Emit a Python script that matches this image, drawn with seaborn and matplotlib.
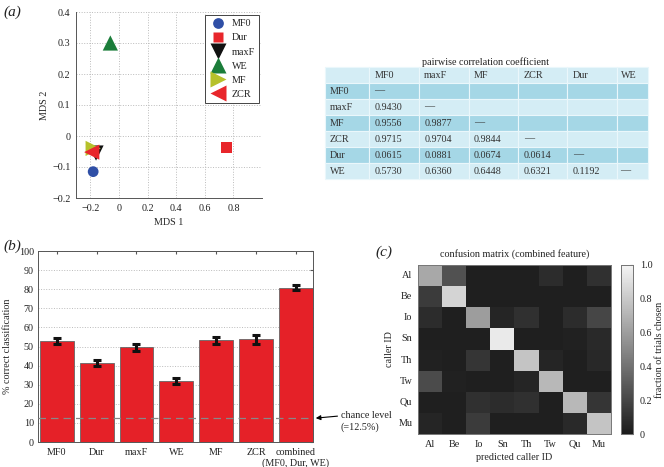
import numpy as np
import pandas as pd
import matplotlib
matplotlib.use('Agg')
import matplotlib.pyplot as plt
from matplotlib.colors import LinearSegmentedColormap
import seaborn as sns

# MDS coordinates of the features
features = ['MF0', 'Dur', 'maxF', 'WE', 'MF', 'ZCR']
mds1 = [-0.18, 0.75, -0.16, -0.06, -0.18, -0.19]
mds2 = [-0.115, -0.037, -0.055, 0.30, -0.04, -0.052]

# pairwise correlation table
tab_cols = ['MF0', 'maxF', 'MF', 'ZCR', 'Dur', 'WE']
tab_rows = [
    ['MF0', '—', '', '', '', '', ''],
    ['maxF', '0.9430', '—', '', '', '', ''],
    ['MF', '0.9556', '0.9877', '—', '', '', ''],
    ['ZCR', '0.9715', '0.9704', '0.9844', '—', '', ''],
    ['Dur', '0.0615', '0.0881', '0.0674', '0.0614', '—', ''],
    ['WE', '0.5730', '0.6360', '0.6448', '0.6321', '0.1192', '—'],
]

# classification accuracy
bar_labels = ['MF0', 'Dur', 'maxF', 'WE', 'MF', 'ZCR', 'combined\n(MF0, Dur, WE)']
bar_vals = [53.0, 41.5, 49.5, 32.0, 53.3, 53.7, 80.8]
bar_err = [1.5, 1.6, 2.0, 1.5, 1.8, 2.2, 1.3]
chance = 12.5

# confusion matrix (rows: caller, cols: predicted)
callers = ['Al', 'Be', 'Io', 'Sn', 'Th', 'Tw', 'Qu', 'Mu']
conf = [
    [0.65, 0.25, 0.02, 0.02, 0.02, 0.08, 0.02, 0.10],
    [0.15, 0.85, 0.02, 0.02, 0.02, 0.02, 0.02, 0.02],
    [0.08, 0.02, 0.60, 0.05, 0.10, 0.02, 0.08, 0.20],
    [0.02, 0.02, 0.02, 0.95, 0.02, 0.02, 0.03, 0.07],
    [0.03, 0.02, 0.12, 0.02, 0.78, 0.05, 0.02, 0.06],
    [0.22, 0.03, 0.02, 0.02, 0.05, 0.72, 0.02, 0.02],
    [0.02, 0.02, 0.10, 0.08, 0.10, 0.02, 0.72, 0.12],
    [0.05, 0.02, 0.15, 0.02, 0.02, 0.02, 0.07, 0.78],
]

FS = 7.3

sns.set_style('white')
plt.rcParams['font.family'] = ['Liberation Serif', 'DejaVu Serif']
plt.rcParams['font.size'] = FS
plt.rcParams['xtick.direction'] = 'in'
plt.rcParams['ytick.direction'] = 'in'
plt.rcParams['xtick.major.size'] = 2.5
plt.rcParams['ytick.major.size'] = 2.5
plt.rcParams['axes.edgecolor'] = '#555555'
plt.rcParams['axes.linewidth'] = 0.7
plt.rcParams['text.color'] = '#222222'
plt.rcParams['xtick.color'] = '#555555'
plt.rcParams['ytick.color'] = '#555555'
plt.rcParams['xtick.labelcolor'] = '#222222'
plt.rcParams['ytick.labelcolor'] = '#222222'

W, H = 664, 467
fig = plt.figure(figsize=(W / 100, H / 100), dpi=100)


def box(l, t, r, b):
    return [l / W, 1 - b / H, (r - l) / W, (b - t) / H]


# ---------- (a) MDS ----------
ax1 = fig.add_axes(box(76, 12, 262, 198))
df_mds = pd.DataFrame({'feature': features, 'MDS 1': mds1, 'MDS 2': mds2})
pal = {'MF0': '#2f4fa6', 'Dur': '#e8262b', 'maxF': '#111111',
       'WE': '#1b7d3a', 'MF': '#b6c12b', 'ZCR': '#e8262b'}
mk = {'MF0': 'o', 'Dur': 's', 'maxF': 'v', 'WE': '^', 'MF': '>', 'ZCR': '<'}
sizes = {'MF0': 60, 'Dur': 60, 'maxF': 120, 'WE': 120, 'MF': 120, 'ZCR': 120}
sns.scatterplot(data=df_mds, x='MDS 1', y='MDS 2', hue='feature', style='feature',
                size='feature', sizes=sizes, palette=pal, markers=mk,
                edgecolor='none', ax=ax1, zorder=3)
ax1.set_xlim(-0.3, 1.0)
ax1.set_ylim(-0.2, 0.4)
ax1.set_xticks([-0.2, 0, 0.2, 0.4, 0.6, 0.8, 1.0])
ax1.set_xticklabels(['−0.2', '0', '0.2', '0.4', '0.6', '0.8', ''])
ax1.set_yticks(np.arange(-0.2, 0.41, 0.1))
ax1.set_yticklabels(['−0.2', '−0.1', '0', '0.1', '0.2', '0.3', '0.4'])
ax1.grid(True, linestyle=':', color='#bbbbbb', linewidth=0.7)
ax1.spines['top'].set_visible(False)
ax1.spines['right'].set_visible(False)
ax1.tick_params(length=2.5, pad=4)
ax1.set_xlabel('MDS 1', labelpad=4)
ax1.set_ylabel('MDS 2', labelpad=2)
handles, labels = ax1.get_legend_handles_labels()
leg = ax1.legend(handles, labels, loc='upper right', fancybox=False, framealpha=1,
                 edgecolor='#444444', borderaxespad=0.3, handletextpad=0.4,
                 labelspacing=0.5, fontsize=FS, borderpad=0.4, handlelength=1.8)
leg.get_frame().set_linewidth(0.7)
fig.text(3 / W, 1 - 12 / H, '(a)', fontsize=11, style='italic', va='center')

# ---------- table ----------
axt = fig.add_axes(box(325, 67, 648, 179))
axt.axis('off')
light = '#d4edf5'
dark = '#a5d7e6'
cell_text = [[''] + tab_cols] + tab_rows
colours = []
for i in range(len(cell_text)):
    c = light if i % 2 == 0 else dark
    colours.append([c] * 7)
cw = np.array([44, 50, 50, 50, 49, 50, 31], dtype=float)
tbl = axt.table(cellText=cell_text, cellColours=colours, colWidths=cw / cw.sum(),
                cellLoc='left', bbox=[0, 0, 1, 1])
tbl.auto_set_font_size(False)
tbl.set_fontsize(FS)
for (r, c), cell in tbl.get_celld().items():
    cell.set_edgecolor('#eaf7fb')
    cell.set_linewidth(0.8)
    cell.PAD = 0.11
    cell.get_text().set_color('#333333')
fig.text(485 / W, 1 - 62 / H, 'pairwise correlation coefficient', ha='center',
         va='center', fontsize=FS)

# ---------- (b) bars ----------
ax2 = fig.add_axes(box(38, 251, 313, 442))
df_bar = pd.DataFrame({'feature': bar_labels, 'acc': bar_vals})
sns.barplot(data=df_bar, x='feature', y='acc', color='#e52128', width=0.85,
            edgecolor='#666666', linewidth=0.6, saturation=1, ax=ax2, zorder=2)
ax2.errorbar(np.arange(len(bar_vals)), bar_vals, yerr=bar_err, fmt='none',
             ecolor='#111111', elinewidth=2.2, capsize=3, capthick=2.2, zorder=4)
ax2.axhline(chance, color='#888888', linestyle=(0, (6, 4)), linewidth=0.9, zorder=3)
ax2.set_ylim(0, 100)
ax2.set_xlim(-0.47, 6.43)
ax2.set_yticks(np.arange(0, 101, 10))
ax2.yaxis.grid(True, linestyle=':', color='#bbbbbb', linewidth=0.7)
ax2.set_axisbelow(True)
ax2.set_xlabel('')
ax2.set_ylabel('% correct classification', labelpad=5)
ax2.tick_params(axis='x', length=2.5, top=True, pad=4)
ax2.tick_params(axis='y', length=2.5, right=True, pad=3)
ax2.annotate('chance level\n(=12.5%)', xy=(1.01, chance),
             xycoords=('axes fraction', 'data'), xytext=(18, 5),
             textcoords='offset points', ha='left', va='top', fontsize=FS,
             linespacing=1.35,
             arrowprops=dict(arrowstyle='-|>', color='black', lw=0.8,
                             shrinkA=0, shrinkB=0, mutation_scale=7,
                             relpos=(0, 0.78)),
             annotation_clip=False)
fig.text(3 / W, 1 - 246 / H, '(b)', fontsize=11, style='italic', va='center')

# ---------- (c) confusion matrix ----------
ax3 = fig.add_axes(box(418, 265, 611, 434))
cax = fig.add_axes(box(621, 265, 633, 434))
df_conf = pd.DataFrame(conf, index=callers, columns=callers)
grey = LinearSegmentedColormap.from_list('grey', ['#1b1b1b', '#f4f4f4'])
sns.heatmap(df_conf, cmap=grey, vmin=0, vmax=1, ax=ax3, cbar_ax=cax,
            xticklabels=callers, yticklabels=callers)
ax3.set_title('confusion matrix (combined feature)', fontsize=FS, pad=6)
ax3.set_xlabel('predicted caller ID', labelpad=3)
ax3.set_ylabel('caller ID', labelpad=3)
ax3.tick_params(length=0, pad=4)
ax3.set_yticklabels(callers, rotation=0)
for s in ax3.spines.values():
    s.set_visible(True)
    s.set_color('#777777')
    s.set_linewidth(0.7)
cax.set_yticks([0, 0.2, 0.4, 0.6, 0.8, 1.0])
cax.set_yticklabels(['0', '0.2', '0.4', '0.6', '0.8', '1.0'])
cax.tick_params(length=2, labelsize=FS, pad=5)
cax.set_ylabel('fraction of trials chosen', fontsize=FS, labelpad=2)
for s in cax.spines.values():
    s.set_visible(True)
    s.set_color('#777777')
    s.set_linewidth(0.7)
fig.text(375 / W, 1 - 252 / H, '(c)', fontsize=11, style='italic', va='center')

fig.savefig('out.png', dpi=100)
